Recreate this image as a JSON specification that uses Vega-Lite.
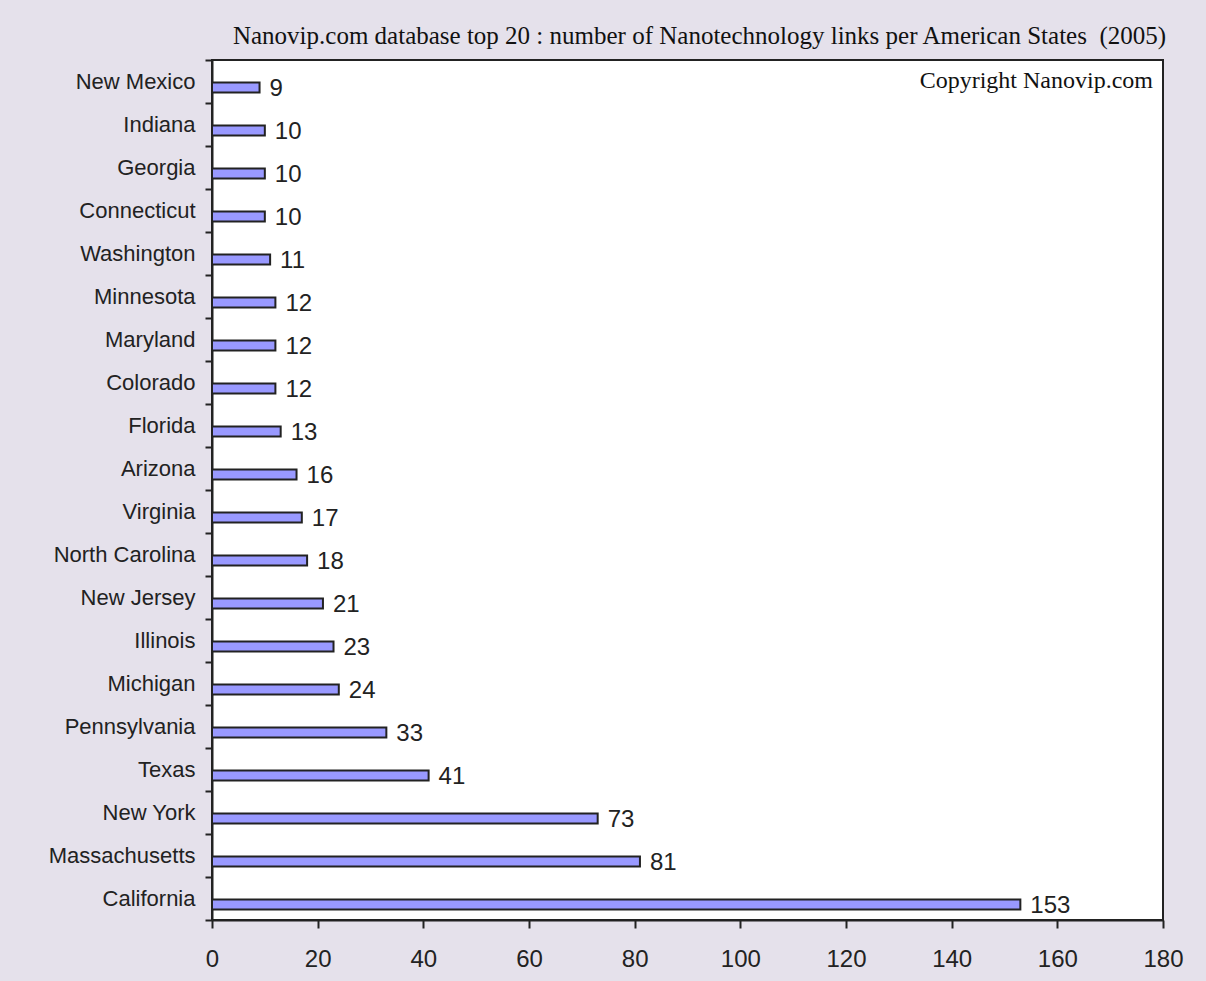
{
  "$schema": "https://vega.github.io/schema/vega-lite/v6.json",
  "autosize": {"type": "none"},
  "padding": {"left": 212, "top": 60, "right": 43, "bottom": 61},
  "width": 951,
  "height": 860,
  "background": "#e5e1eb",
  "title": {
    "text": "Nanovip.com database top 20 : number of Nanotechnology links per American States\u00a0 (2005)",
    "font": "Liberation Serif",
    "fontSize": 25,
    "fontWeight": "normal",
    "color": "#111111",
    "anchor": "middle",
    "dx": 12,
    "offset": 10,
    "dy": 10
  },
  "config": {
    "view": {"fill": "white", "stroke": "#222222", "strokeWidth": 2},
    "axis": {"grid": false, "domainColor": "#222222", "domainWidth": 2, "tickColor": "#222222", "tickWidth": 2, "labelColor": "#222222", "labelFont": "Liberation Sans", "title": null}
  },
  "data": {
    "values": [
      {"state": "New Mexico", "links": 9},
      {"state": "Indiana", "links": 10},
      {"state": "Georgia", "links": 10},
      {"state": "Connecticut", "links": 10},
      {"state": "Washington", "links": 11},
      {"state": "Minnesota", "links": 12},
      {"state": "Maryland", "links": 12},
      {"state": "Colorado", "links": 12},
      {"state": "Florida", "links": 13},
      {"state": "Arizona", "links": 16},
      {"state": "Virginia", "links": 17},
      {"state": "North Carolina", "links": 18},
      {"state": "New Jersey", "links": 21},
      {"state": "Illinois", "links": 23},
      {"state": "Michigan", "links": 24},
      {"state": "Pennsylvania", "links": 33},
      {"state": "Texas", "links": 41},
      {"state": "New York", "links": 73},
      {"state": "Massachusetts", "links": 81},
      {"state": "California", "links": 153}
    ]
  },
  "encoding": {
    "y": {
      "field": "state",
      "type": "nominal",
      "sort": null,
      "scale": {"paddingInner": 0, "paddingOuter": 0},
      "axis": {"tickBand": "extent", "tickSize": 7, "labelPadding": 10, "labelFontSize": 22}
    },
    "x": {
      "field": "links",
      "type": "quantitative",
      "scale": {"domain": [0, 180], "nice": false, "zero": true},
      "axis": {"values": [0, 20, 40, 60, 80, 100, 120, 140, 160, 180], "tickSize": 8, "labelPadding": 19, "labelFontSize": 24, "labelFlush": false}
    }
  },
  "layer": [
    {
      "mark": {"type": "bar", "height": 10, "yOffset": 6, "fill": "#9999ff", "stroke": "#222222", "strokeWidth": 2}
    },
    {
      "mark": {"type": "text", "align": "left", "baseline": "middle", "dx": 10, "yOffset": 7, "font": "Liberation Sans", "fontSize": 24, "color": "#222222"},
      "encoding": {"text": {"field": "links", "type": "quantitative"}}
    },
    {
      "data": {"values": [{"state": "New Mexico", "links": 180, "note": "Copyright Nanovip.com"}]},
      "mark": {"type": "text", "align": "right", "baseline": "middle", "dx": -10, "yOffset": -1, "font": "Liberation Serif", "fontSize": 24, "color": "#111111"},
      "encoding": {
        "text": {"field": "note", "type": "nominal"}
      }
    }
  ]
}
